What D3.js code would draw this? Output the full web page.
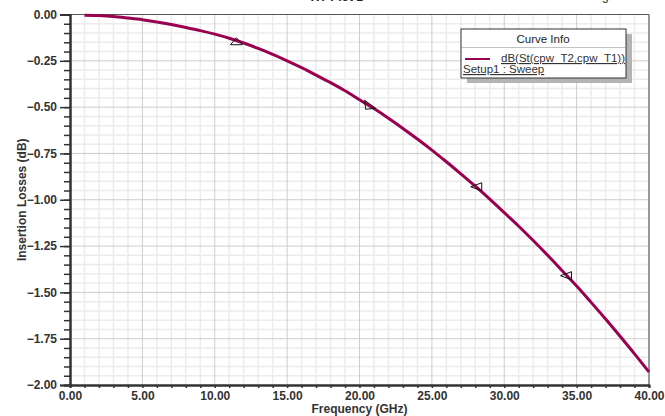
<!DOCTYPE html>
<html>
<head>
<meta charset="utf-8">
<script src="https://cdn.jsdelivr.net/npm/d3@7"></script>
<style>
  body { margin: 0; background: #fff; }
  svg { display: block; font-family: "Liberation Sans", Arial, sans-serif; }
</style>
</head>
<body>
<svg></svg>
<script>
var width = 665,
    height = 416;

// sweep frequencies (GHz) and insertion loss (dB)
var freq = [1, 2, 3, 4, 5, 6, 7, 8, 9, 10,
            11, 12, 13, 14, 15, 16, 17, 18, 19, 20,
            21, 22, 23, 24, 25, 26, 27, 28, 29, 30,
            31, 32, 33, 34, 35, 36, 37, 38, 39, 40];
var loss = [-0.004, -0.006, -0.011, -0.019, -0.028, -0.04, -0.054, -0.07, -0.087, -0.106,
            -0.128, -0.154, -0.183, -0.215, -0.25, -0.287, -0.327, -0.368, -0.412, -0.46,
            -0.508, -0.56, -0.615, -0.672, -0.732, -0.795, -0.86, -0.927, -0.997, -1.07,
            -1.143, -1.22, -1.3, -1.383, -1.466, -1.554, -1.644, -1.737, -1.832, -1.93];

// arrow markers drawn on the trace
var markerFreq = [11.5, 20.7, 28.1, 34.3];
var markerLoss = [-0.147, -0.49, -0.93, -1.41];
var markerDir = ["up", "right", "left", "left"];

var xTicks = [0, 5, 10, 15, 20, 25, 30, 35, 40];
var yTicks = [0, -0.25, -0.5, -0.75, -1, -1.25, -1.5, -1.75, -2];

var curveName = "dB(St(cpw_T2,cpw_T1))";
var setupName = "Setup1 : Sweep";

var traceColor = "#990050";

var svg = d3.select("svg")
    .attr("width", width)
    .attr("height", height);

var x = d3.scaleLinear().domain([0, 40]).range([70, 649]);
var y = d3.scaleLinear().domain([-2, 0]).range([385, 14.5]);

// titles sit above the page, only their lowest pixels show
svg.append("text")
    .attr("x", 337).attr("y", 0.5)
    .attr("text-anchor", "middle")
    .style("font-size", "12px").style("font-weight", "bold").attr("fill", "#222")
    .text("XY Plot 1");
svg.append("text")
    .attr("x", 622).attr("y", -0.5)
    .attr("text-anchor", "end")
    .style("font-size", "12px").attr("fill", "#222")
    .text("HFSSDesign1");

// grid
var grid = svg.append("g");
grid.selectAll("line.xminor")
    .data(d3.range(1, 40, 1).filter(function (d) { return d % 5 != 0; }))
    .enter().append("line")
    .attr("x1", function (d) { return x(d); })
    .attr("x2", function (d) { return x(d); })
    .attr("y1", y(0)).attr("y2", y(-2))
    .attr("stroke", "#ececec").attr("stroke-width", 1.5);
grid.selectAll("line.yminor")
    .data(d3.range(1, 40, 1).filter(function (d) { return d % 5 != 0; }))
    .enter().append("line")
    .attr("y1", function (d) { return y(-d * 0.05); })
    .attr("y2", function (d) { return y(-d * 0.05); })
    .attr("x1", x(0)).attr("x2", x(40))
    .attr("stroke", "#ececec").attr("stroke-width", 1.5);
grid.selectAll("line.xmajor")
    .data(xTicks.slice(1, -1))
    .enter().append("line")
    .attr("x1", function (d) { return x(d); })
    .attr("x2", function (d) { return x(d); })
    .attr("y1", y(0)).attr("y2", y(-2))
    .attr("stroke", "#cdcdcd");
grid.selectAll("line.ymajor")
    .data(yTicks.slice(1, -1))
    .enter().append("line")
    .attr("y1", function (d) { return y(d); })
    .attr("y2", function (d) { return y(d); })
    .attr("x1", x(0)).attr("x2", x(40))
    .attr("stroke", "#cdcdcd");

// frame
svg.append("line")
    .attr("x1", x(0)).attr("x2", x(40)).attr("y1", y(0)).attr("y2", y(0))
    .attr("stroke", "#555").attr("stroke-width", 1.2);
svg.append("line")
    .attr("x1", x(40)).attr("x2", x(40)).attr("y1", y(0)).attr("y2", y(-2))
    .attr("stroke", "#555").attr("stroke-width", 1.2);

// axes
var xAxis = d3.axisBottom(x)
    .tickValues(xTicks)
    .tickFormat(d3.format(".2f"))
    .tickSize(0).tickPadding(6);
var xMinor = d3.axisBottom(x)
    .tickValues(d3.range(0, 41, 1))
    .tickFormat("")
    .tickSize(3);
var yAxis = d3.axisLeft(y)
    .tickValues(yTicks)
    .tickFormat(d3.format(".2f"))
    .tickSize(10).tickPadding(3);
var yMinor = d3.axisLeft(y)
    .tickValues(d3.range(0, 41, 1).map(function (d) { return -d * 0.05; }))
    .tickFormat("")
    .tickSize(6);

function styleAxis(g) {
    g.select(".domain").attr("stroke", "#333").attr("stroke-width", 2);
    g.selectAll(".tick line").attr("stroke", "#333").attr("stroke-width", 1.5);
    g.selectAll("text")
        .attr("fill", "#333")
        .style("font-size", "12px")
        .style("font-weight", "bold")
        .style("font-family", "'Liberation Sans', Arial, sans-serif");
}

svg.append("g").attr("transform", "translate(0," + y(-2) + ")").call(xMinor).call(styleAxis);
svg.append("g").attr("transform", "translate(0," + y(-2) + ")").call(xAxis).call(styleAxis);
svg.append("g").attr("transform", "translate(" + x(0) + ",0)").call(yMinor).call(styleAxis);
svg.append("g").attr("transform", "translate(" + x(0) + ",0)").call(yAxis).call(styleAxis);

// axis titles
svg.append("text")
    .attr("x", (x(0) + x(40)) / 2).attr("y", 413)
    .attr("text-anchor", "middle")
    .style("font-size", "12px").style("font-weight", "bold").attr("fill", "#333")
    .text("Frequency (GHz)");
svg.append("text")
    .attr("transform", "translate(26," + (y(0) + y(-2)) / 2 + ") rotate(-90)")
    .attr("text-anchor", "middle")
    .style("font-size", "12px").style("font-weight", "bold").attr("fill", "#333")
    .text("Insertion Losses (dB)");

// trace
var pts = freq.map(function (f, i) { return [f, loss[i]]; });
var line = d3.line()
    .x(function (d) { return x(d[0]); })
    .y(function (d) { return y(d[1]); })
    .curve(d3.curveMonotoneX);
svg.append("path")
    .datum(pts)
    .attr("d", line)
    .attr("fill", "none")
    .attr("stroke", traceColor)
    .attr("stroke-width", 3);

// markers
var shapes = {
    up: "M-6,3 L6,3 L0,-4 Z",
    right: "M-5,-5 L6,3 L-4,4 Z",
    left: "M5,-4 L5,4 L-6,0 Z"
};
svg.selectAll("path.marker")
    .data(markerFreq)
    .enter().append("path")
    .attr("class", "marker")
    .attr("transform", function (d, i) { return "translate(" + x(d) + "," + y(markerLoss[i]) + ")"; })
    .attr("d", function (d, i) { return shapes[markerDir[i]]; })
    .attr("fill", "none")
    .attr("stroke", "#111")
    .attr("stroke-width", 1);

// legend
var lg = svg.append("g").attr("transform", "translate(461,29)");
lg.append("rect")
    .attr("x", 6).attr("y", 5).attr("width", 165).attr("height", 49)
    .attr("fill", "#b4b4b4");
lg.append("rect")
    .attr("x", 0).attr("y", 0).attr("width", 165).attr("height", 49)
    .attr("fill", "#fff").attr("stroke", "#333").attr("stroke-width", 1);
lg.append("text")
    .attr("x", 82).attr("y", 14)
    .attr("text-anchor", "middle")
    .style("font-size", "11.5px").attr("fill", "#222")
    .text("Curve Info");
lg.append("line")
    .attr("x1", 0).attr("x2", 165).attr("y1", 18.5).attr("y2", 18.5)
    .attr("stroke", "#999").attr("stroke-width", 0.6);
lg.append("line")
    .attr("x1", 4).attr("x2", 29).attr("y1", 30).attr("y2", 30)
    .attr("stroke", traceColor).attr("stroke-width", 2);
lg.append("text")
    .attr("x", 164).attr("y", 33)
    .attr("text-anchor", "end")
    .style("font-size", "11.5px").style("text-decoration", "underline").attr("fill", "#333")
    .text(curveName);
lg.append("text")
    .attr("x", 2).attr("y", 44)
    .style("font-size", "11.5px").style("text-decoration", "underline").attr("fill", "#333")
    .text(setupName);
</script>
</body>
</html>
